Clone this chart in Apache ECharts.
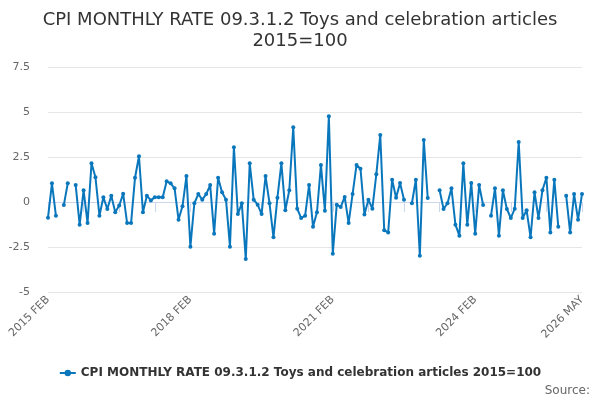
<!DOCTYPE html>
<html>
<head>
<meta charset="utf-8">
<script src="https://cdn.jsdelivr.net/npm/echarts@6/dist/echarts.min.js"></script>
<style>html,body{margin:0;padding:0;background:#fff}#c{width:600px;height:400px}</style>
</head>
<body>
<div id="c"></div>
<script>
var monthNames = ['JAN','FEB','MAR','APR','MAY','JUN','JUL','AUG','SEP','OCT','NOV','DEC'];
var categories = [];
(function(){ var y=2015, m=1; for (var k=0;k<136;k++){ categories.push(y+' '+monthNames[m]); m++; if(m>11){m=0;y++;} } })();

var values = [
 -0.87, 1.04, -0.76, null, -0.17, 1.04, null, 0.94, -1.26, 0.65,
 -1.17, 2.15, 1.37, -0.76, 0.26, -0.39, 0.35, -0.57, -0.2, 0.46,
 -1.17, -1.17, 1.35, 2.54, -0.57, 0.35, 0.09, 0.26, 0.26, 0.26,
 1.15, 1.04, 0.76, -0.98, -0.24, 1.44, -2.48, -0.07, 0.44, 0.13,
 0.44, 0.94, -1.76, 1.35, 0.54, 0.13, -2.48, 3.04, -0.67, -0.07,
 -3.17, 2.15, 0.13, -0.15, -0.67, 1.44, -0.07, -1.96, 0.24, 2.15,
 -0.46, 0.65, 4.15, -0.37, -0.89, -0.76, 0.94, -1.37, -0.57, 2.06,
 -0.48, 4.76, -2.87, -0.15, -0.28, 0.28, -1.17, 0.44, 2.06, 1.85,
 -0.69, 0.13, -0.37, 1.54, 3.72, -1.57, -1.69, 1.24, 0.24, 1.06,
 0.13, null, -0.07, 1.24, -2.98, 3.44, 0.22, null, null, 0.65,
 -0.39, -0.07, 0.76, -1.26, -1.87, 2.15, -1.26, 1.06, -1.76, 0.94,
 -0.17, null, -0.76, 0.76, -1.87, 0.65, -0.39, -0.89, -0.37, 3.33,
 -0.89, -0.46, -1.96, 0.54, -0.89, 0.65, 1.35, -1.69, 1.24, -1.37,
 null, 0.35, -1.69, 0.44, -0.98, 0.44
];

var seriesName = 'CPI MONTHLY RATE 09.3.1.2 Toys and celebration articles 2015=100';
var titleText = 'CPI MONTHLY RATE 09.3.1.2 Toys and celebration articles\n2015=100';
var yTicks = [-5, -2.5, 0, 2.5, 5, 7.5];

var chart = echarts.init(document.getElementById('c'), null, {renderer:'canvas'});
chart.setOption({
  animation: false,
  backgroundColor: '#fff',
  textStyle: {fontFamily: 'DejaVu Sans'},
  title: {
    text: titleText, left: 'center', top: 5,
    textStyle: {fontFamily:'DejaVu Sans', fontSize: 18, fontWeight: 'normal', color: '#333', lineHeight: 21}
  },
  graphic: [{
    type: 'text', right: 10, bottom: 3,
    style: {text: 'Source:', fill: '#666', font: '12px DejaVu Sans'}
  }],
  legend: {
    bottom: 16, left: 'center',
    itemWidth: 16, itemHeight: 8, itemGap: 6,
    textStyle: {fontFamily:'DejaVu Sans', fontSize: 12, fontWeight: 'bold', color: '#333'},
    data: [seriesName]
  },
  grid: {left: 48, right: 18, top: 67, bottom: 108, containLabel: false},
  xAxis: {
    type: 'category', data: categories, boundaryGap: false,
    axisLine: {lineStyle: {color: '#ccd6eb'}},
    axisTick: {show: true, length: 10, lineStyle: {color: '#ccd6eb'},
      interval: function(i){ return i % 9 === 0; }},
    axisLabel: {rotate: 45, color: '#666', fontSize: 11, margin: 6,
      interval: function(i){ return i % 36 === 0 || i === categories.length - 1; }},
    splitLine: {show: false}
  },
  yAxis: {
    type: 'value', min: yTicks[0], max: yTicks[yTicks.length-1], interval: 2.5,
    axisLine: {show: false}, axisTick: {show: false},
    axisLabel: {color: '#666', fontSize: 11, margin: 18},
    splitLine: {lineStyle: {color: '#e6e6e6'}}
  },
  series: [{
    name: seriesName, type: 'line', data: values,
    connectNulls: false,
    symbol: 'circle', symbolSize: 4, showAllSymbol: true,
    itemStyle: {color: '#0a77bd'},
    lineStyle: {color: '#0a77bd', width: 2}
  }]
});
</script>
</body>
</html>
